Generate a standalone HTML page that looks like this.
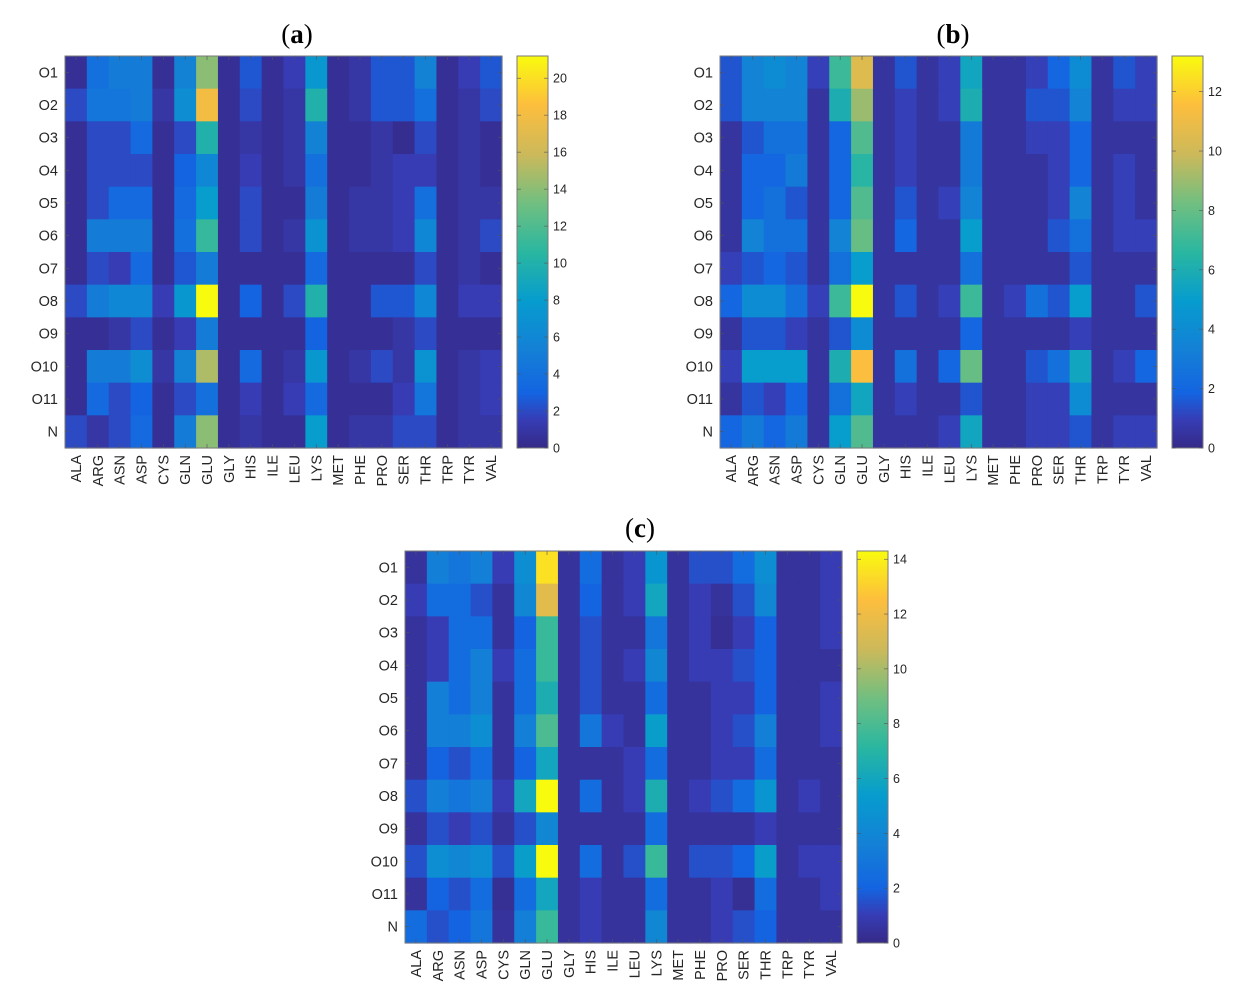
<!DOCTYPE html>
<html><head><meta charset="utf-8">
<style>
html,body{margin:0;padding:0;background:#fff;}
svg{display:block;font-family:"Liberation Sans",Arial,sans-serif;}
</style></head>
<body>
<svg id="s" width="1245" height="1002" viewBox="0 0 1245 1002">
<defs>
<linearGradient id="parula" x1="0" y1="1" x2="0" y2="0">
<stop offset="0" stop-color="#352a87"/><stop offset="0.07" stop-color="#373cb4"/>
<stop offset="0.14" stop-color="#1464e1"/>
<stop offset="0.25" stop-color="#1480d6"/><stop offset="0.375" stop-color="#069cce"/>
<stop offset="0.5" stop-color="#2ab7a0"/><stop offset="0.625" stop-color="#71bf80"/>
<stop offset="0.75" stop-color="#cdb95a"/><stop offset="0.875" stop-color="#fdbe3d"/>
<stop offset="1" stop-color="#f9fb0e"/></linearGradient>
</defs>
</svg>
<script>
const rows=["O1","O2","O3","O4","O5","O6","O7","O8","O9","O10","O11","N"];
const cols=["ALA","ARG","ASN","ASP","CYS","GLN","GLU","GLY","HIS","ILE","LEU","LYS","MET","PHE","PRO","SER","THR","TRP","TYR","VAL"];
const valuesA=[
[0.5,4,5,5,0.5,5.5,14,0.5,2.5,0.5,1.5,7.5,0.5,1,2.5,2.5,5.5,0.5,1.5,2.5],
[2,4.5,4.5,5,1,6.5,18,0.5,2,0.5,1,10,0.5,1,2.5,2.5,4,0.5,1,2],
[0.5,2,2,3.5,0.5,2,10,0.5,1,0.5,1,5.5,0.5,0.5,1,0.3,2,0.5,1,0.5],
[0.5,2,2,2,0.5,3,6,0.5,1.5,0.5,1,4,0.5,0.5,1,1.5,1.5,0.5,1,0.5],
[0.5,2,3.5,3.5,0.5,3.5,8,0.5,2,0.5,0.5,5,0.5,1,1,1.5,4,0.5,1,1],
[0.5,5,5,5,0.5,4,11,0.5,2,0.5,1,7,0.5,1,1,1.5,6,0.5,1,2],
[0.5,2,1.5,3.5,0.5,2.5,5,0.5,0.5,0.5,0.5,3.5,0.5,0.5,0.5,0.5,2,0.5,1,0.5],
[2,5,6,6,1.5,7.5,21.2,0.5,3,0.5,2,10,0.5,0.5,2.5,2.5,6,0.5,1.5,1.5],
[0.5,0.5,1,2,0.5,1.5,5,0.5,0.5,0.5,0.5,3,0.5,0.5,0.5,1,2,0.5,0.5,0.5],
[0.5,5,5,6.5,1,5.5,15,0.5,3.5,0.5,1,7.5,0.5,1,2,1,7,0.5,1,1.5],
[0.5,3.5,2,3,0.5,2,4,0.5,1.5,0.5,1.5,3.5,0.5,0.5,0.5,1.5,4.5,0.5,1,1.5],
[2,1,2,3.5,0.5,5,14,0.5,1,0.5,0.5,8,0.5,1,1,2,2,0.5,1,1]];
const valuesB=[
[1.5,3.5,4,3.5,1,7,10.5,0.5,1.5,0.5,1,5.5,0.5,0.5,1,2,4,0.5,1.5,1],
[1.5,3.5,3.5,3.5,0.5,6,9,0.5,1,0.5,1,6,0.5,0.5,1.5,1.5,3.5,0.5,1,1],
[0.5,1.5,2.5,2.5,0.5,2,7.5,0.5,1,0.5,0.5,3,0.5,0.5,1,1,2,0.5,0.5,0.5],
[0.5,2,2,3,0.5,2,6.5,0.5,1,0.5,0.5,3,0.5,0.5,0.5,1,2,0.5,1,0.5],
[0.5,2,2.5,1.5,0.5,2,7.5,0.5,1.5,0.5,1,3.5,0.5,0.5,0.5,1,3.5,0.5,1,0.5],
[0.5,3.5,2.5,2.5,0.5,3.5,8,0.5,2,0.5,0.5,5,0.5,0.5,0.5,1.5,2.5,0.5,1,1],
[1,1.5,2,1.5,0.5,2.5,5,0.5,0.5,0.5,0.5,2.5,0.5,0.5,0.5,0.5,1.5,0.5,0.5,0.5],
[2,4,4,2.5,1,7,13.2,0.5,1.5,0.5,1,7,0.5,1,2.5,1.5,5,0.5,0.5,1.5],
[0.5,1.5,1.5,1,0.5,1.5,4,0.5,0.5,0.5,0.5,2,0.5,0.5,0.5,0.5,1,0.5,0.5,0.5],
[1,5,5,5,0.5,6,11.5,0.5,2.5,0.5,2,8,0.5,0.5,1.5,2.5,5.5,0.5,1,2],
[0.5,1.5,1,2,0.5,2.5,5.5,0.5,1,0.5,0.5,1.5,0.5,0.5,1,1,4,0.5,0.5,0.5],
[2,3,2,3,0.5,5,7.5,0.5,0.5,0.5,1,5.5,0.5,0.5,1,1,1.5,0.5,1,1]];
const valuesC=[
[0.5,3.5,3,3.5,1,4.5,13.5,0.5,2.5,0.5,1,5,0.5,1.5,1.5,2.5,4.5,0.5,0.5,1],
[1,2.5,2.5,1.5,0.5,4,11.5,0.5,2,0.5,1,6,0.5,1,0.5,1.5,4,0.5,0.5,1],
[0.5,1,2.5,2.5,0.5,2,7.5,0.5,1.5,0.5,0.5,3,0.5,1,0.3,1,2,0.5,0.5,1],
[0.5,1,2.5,3.5,1,2.5,7.5,0.5,1.5,0.5,1,4,0.5,1,1,1.5,2,0.5,0.5,0.5],
[0.5,3.5,2.5,3.5,0.5,2.5,6.5,0.5,1.5,0.5,0.5,2.5,0.5,0.5,1,1,2,0.5,0.5,1],
[0.5,3.5,3.5,4.5,0.5,3.5,8,0.5,3,1,0.5,5.5,0.5,0.5,1,1.5,3.5,0.5,0.5,1],
[0.5,2,1.5,2.5,0.5,2,6,0.5,0.5,0.5,1,2.5,0.5,0.5,1,1,2.5,0.5,0.5,0.5],
[1.5,3.5,3,3.5,1,6,14.3,0.5,2.5,0.5,1,6.5,0.5,1,1.5,2.5,5,0.5,1,0.5],
[0.5,1.5,1,1.5,0.5,1.5,4,0.5,0.5,0.5,0.5,2.5,0.5,0.5,0.5,0.5,1,0.5,0.5,0.5],
[1.5,4.5,4,4.5,1.5,5.5,14.3,0.5,2.5,0.5,1.5,7.5,0.5,1.5,1.5,2,5.5,0.5,1,1],
[0.5,2,1.5,2.5,0.3,2.5,6,0.5,1,0.5,0.5,2.5,0.5,0.5,1,0.3,2.5,0.5,0.5,1],
[2.5,1.5,2,3,0.5,3.5,7.5,0.5,1,0.5,0.5,4,0.5,0.5,1,1.5,2,0.5,0.5,0.5]];
const ticksA=[0,2,4,6,8,10,12,14,16,18,20];
const ticksB=[0,2,4,6,8,10,12];
const ticksC=[0,2,4,6,8,10,12,14];

const NS="http://www.w3.org/2000/svg";
const svg=document.getElementById('s');
const stops=[[0,53,42,135],[0.07,55,60,180],[0.14,20,100,225],[0.25,20,128,214],[0.375,6,156,206],[0.5,42,183,160],[0.625,113,191,128],[0.75,205,185,90],[0.875,253,190,61],[1,249,251,14]];
function parula(t){t=Math.max(0,Math.min(1,t));for(let i=1;i<stops.length;i++){if(t<=stops[i][0]){const a=stops[i-1],b=stops[i],f=(t-a[0])/(b[0]-a[0]);return `rgb(${[1,2,3].map(k=>Math.round(a[k]+(b[k]-a[k])*f)).join(',')})`;}}return 'rgb(249,251,14)';}
function mk(tag,attrs,parent){const e=document.createElementNS(NS,tag);for(const k in attrs)e.setAttribute(k,attrs[k]);(parent||svg).appendChild(e);return e;}

function panel(id,vals,ticks,x0,y0,letter,tx,ty){
  const W=437,H=392,cw=W/cols.length,rh=H/rows.length;
  let vmax=0;vals.forEach(r=>r.forEach(v=>{if(v>vmax)vmax=v;}));
  const g=mk('g',{});
  
  
  const xs=i=>x0+i*cw, ys=j=>y0+j*rh, cs=v=>parula(v/vmax);
  vals.forEach((r,j)=>r.forEach((v,i)=>{
    const c=mk('rect',{x:xs(i),y:ys(j),width:cw+0.6,height:rh+0.6,fill:cs(v)},g);
    
    
  }));
  mk('rect',{x:x0,y:y0,width:W,height:H,fill:'none',stroke:'#7a7a7a','stroke-width':1},g);
  rows.forEach((r,j)=>{const y=ys(j)+rh/2;
    mk('line',{x1:x0,x2:x0+4,y1:y,y2:y,stroke:'#555','stroke-width':0.6},g);
    mk('line',{x1:x0+W,x2:x0+W-4,y1:y,y2:y,stroke:'#555','stroke-width':0.6},g);
    const t=mk('text',{x:x0-7,y:y+5,'text-anchor':'end','font-size':14.5,fill:'#262626'},g);t.textContent=r;
    });
  cols.forEach((c,i)=>{const x=xs(i)+cw/2;
    mk('line',{x1:x,x2:x,y1:y0+H,y2:y0+H-4,stroke:'#555','stroke-width':0.6},g);
    mk('line',{x1:x,x2:x,y1:y0,y2:y0+4,stroke:'#555','stroke-width':0.6},g);
    const t=mk('text',{x:0,y:0,transform:`translate(${x+5},${y0+H+7}) rotate(-90)`,'text-anchor':'end','font-size':14.5,fill:'#262626'},g);t.textContent=c;
    });
  const cx=x0+W+15,cbw=31;
  const cb=mk('rect',{x:cx,y:y0,width:cbw,height:H,fill:'url(#parula)',stroke:'#7a7a7a','stroke-width':1},g);
  
  const cy=v=>y0+H-v/vmax*H;
  ticks.forEach(v=>{const y=cy(v);
    mk('line',{x1:cx,x2:cx+4,y1:y,y2:y,stroke:'#555','stroke-width':0.6},g);
    mk('line',{x1:cx+cbw,x2:cx+cbw-4,y1:y,y2:y,stroke:'#555','stroke-width':0.6},g);
    const t=mk('text',{x:cx+cbw+5,y:y+4.5,'font-size':12.5,fill:'#262626'},g);t.textContent=v;
    });
  const tt=mk('text',{x:tx,y:ty,'text-anchor':'middle','font-size':27,'font-family':'Liberation Serif,serif',fill:'#000'},g);
  
  tt.innerHTML='(<tspan font-weight="bold">'+letter+'</tspan>)';
}
panel('a',valuesA,ticksA,65,56,'a',297,43);
panel('b',valuesB,ticksB,720,56,'b',953,43);
panel('c',valuesC,ticksC,405,551,'c',640,537);
</script>
</body></html>
